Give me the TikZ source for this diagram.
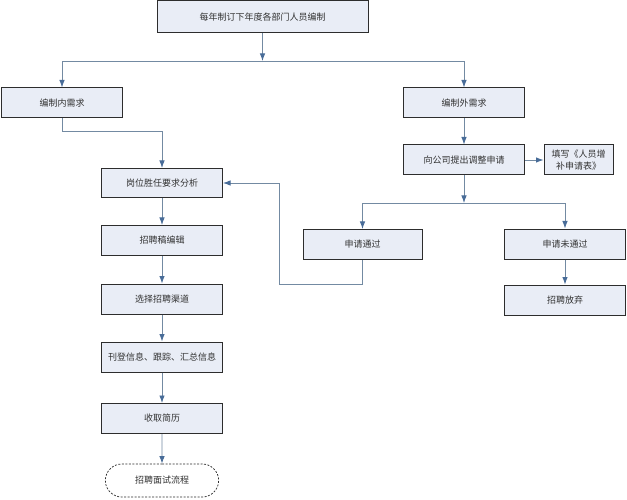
\documentclass[tikz,border=0pt]{standalone}
\usepackage{fontspec}
\newfontfamily\cjk{Noto Sans CJK SC}
\definecolor{boxfill}{RGB}{233,237,246}
\definecolor{boxline}{RGB}{45,45,45}
\definecolor{flowline}{RGB}{115,138,162}
\definecolor{flowtip}{RGB}{72,108,152}
\definecolor{textgray}{RGB}{50,50,50}
\usetikzlibrary{shapes.misc,arrows.meta,positioning,calc}

\begin{document}
\begin{tikzpicture}[x=1pt, y=-1pt, font=\cjk\fontsize{9}{12}\selectfont, text=textgray,
  procbox/.style={draw=boxline, fill=boxfill, line width=1pt, minimum width=121pt, minimum height=30pt, inner sep=1pt},
  endbox/.style={draw=boxline, dash pattern=on 2pt off 1.5pt, fill=white, rounded rectangle, line width=0.7pt, minimum width=120pt, minimum height=33pt},
  flow/.style={draw=flowline, line width=0.9pt, -{Latex[length=7.5pt,width=5.5pt,color=flowtip]}}]
  \useasboundingbox[fill=white] (0,0) rectangle (627,500);

  % top and the two demand branches
  \node[procbox, minimum width=211pt, minimum height=32pt] (plan) at (262.5,17) {每年制订下年度各部门人员编制};
  \node[procbox] (inner) at (62,103) {编制内需求};
  \node[procbox] (outer) at (464,103) {编制外需求};
  \coordinate (split1) at (262.5,61);

  % right side: adjustment request
  \node[procbox] (request) at (464,160) {向公司提出调整申请};
  \node[procbox, minimum width=69pt, align=center] (form) at (578.5,160) {填写《人员增\\补申请表》};
  \coordinate (split2) at (464,203);
  \node[procbox, minimum width=119pt] (passed) at (362.5,244.5) {申请通过};
  \node[procbox] (failed) at (565,244) {申请未通过};
  \node[procbox] (giveup) at (565,300) {招聘放弃};
  \coordinate (loopc) at (279,284);

  % left column
  \node[procbox, minimum height=29pt] (analysis) at (162,183) {岗位胜任要求分析};
  \foreach \n/\y/\t in {edit/240.5/招聘稿编辑, channel/299/选择招聘渠道, publish/357/刊登信息、跟踪、汇总信息, resume/418.5/收取简历}{
    \node[procbox] (\n) at (162,\y) {\t};
  }
  \node[endbox] (interview) at (162,480.5) {招聘面试流程};

  % connectors
  \draw[flow] (plan) -- (split1);
  \draw[flow] (split1) -| (inner);
  \draw[flow] (split1) -| (outer);
  \draw[flow] (inner.south) -- ++(0,13) -| (analysis.north);
  \draw[flow] (outer) -- (request);
  \draw[flow] (request) -- (form);
  \draw[flow] (request) -- (split2);
  \draw[flow] (split2) -| (passed);
  \draw[flow] (split2) -| (failed);
  \draw[flow] (failed) -- (giveup);
  \draw[flow] (passed.south) |- (loopc) |- (analysis.east);
  \foreach \a/\b in {analysis/edit, edit/channel, channel/publish, publish/resume, resume/interview}{
    \draw[flow] (\a) -- (\b);
  }
\end{tikzpicture}
\end{document}
